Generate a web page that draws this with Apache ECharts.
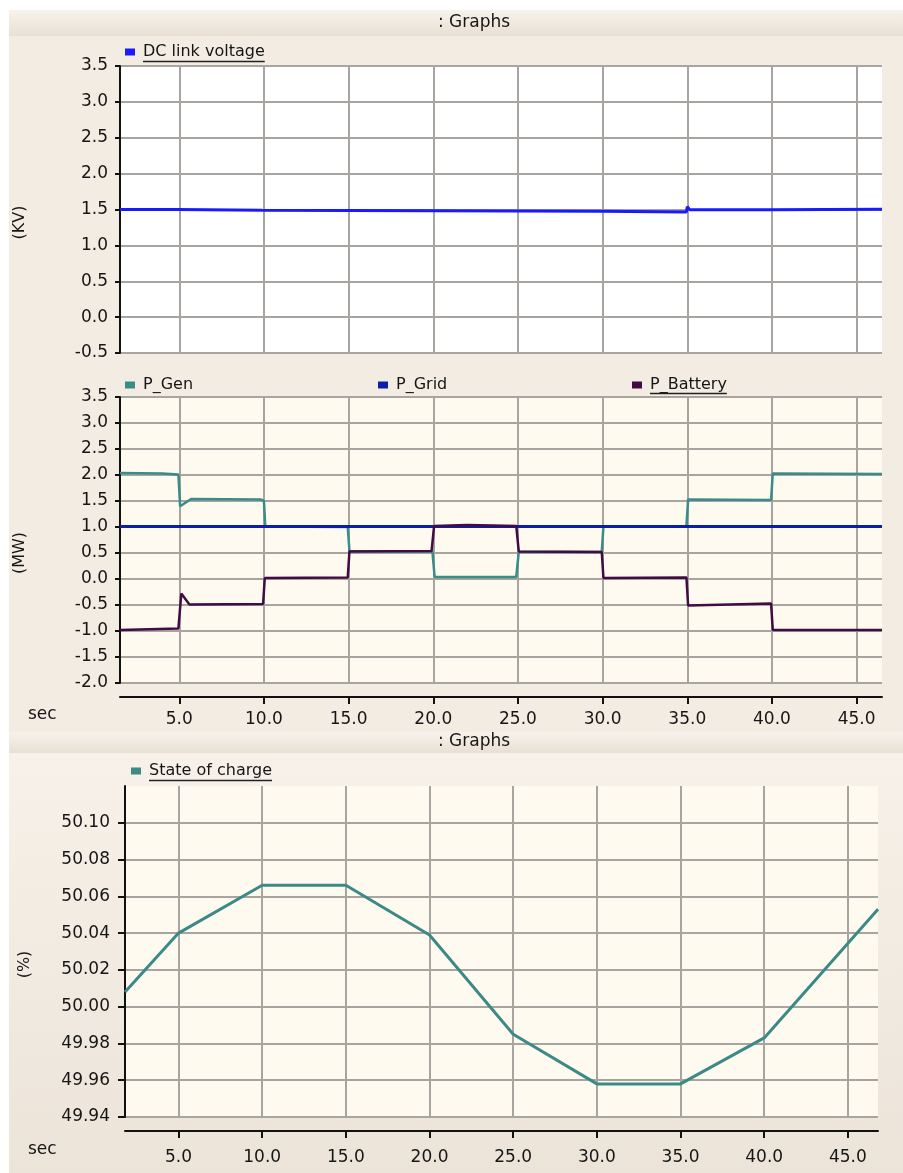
<!DOCTYPE html>
<html>
<head>
<meta charset="utf-8">
<script src="https://cdn.jsdelivr.net/npm/echarts@6/dist/echarts.min.js"></script>
<style>
html,body{margin:0;padding:0;background:#ffffff;}
#c{width:903px;height:1173px;}
</style>
</head>
<body>
<div id="c"></div>
<script>
// ---------- data ----------
const xTicks = [5, 10, 15, 20, 25, 30, 35, 40, 45];
const socTicks = [49.94, 49.96, 49.98, 50.00, 50.02, 50.04, 50.06, 50.08, 50.10];

const dcTime = [1.5, 4.9, 5.0, 9.9, 10.0, 29.9, 30.0, 34.95, 35.0, 35.15, 39.9, 40.0, 46.5];
const dcVolt = [1.50, 1.50, 1.49, 1.49, 1.475, 1.475, 1.465, 1.465, 1.54, 1.495, 1.495, 1.505, 1.505];

const genTime = [1.5, 4.0, 4.95, 5.05, 5.1, 5.7, 9.8, 10.0, 10.08, 14.95, 15.05, 19.95, 20.08, 24.9, 25.05, 29.95, 30.05, 34.95, 35.05, 39.95, 40.05, 46.5];
const pGen    = [2.04, 2.03, 2.01, 1.40, 1.38, 1.54, 1.53, 1.50, 1.01, 1.00, 0.54, 0.53, 0.04, 0.04, 0.52, 0.52, 1.01, 1.02, 1.53, 1.52, 2.03, 2.02];

const gridTime = [1.5, 10.0, 20.0, 30.0, 40.0, 46.5];
const pGrid    = [1.01, 1.01, 1.01, 1.01, 1.01, 1.01];

const batTime = [1.5, 4.95, 5.05, 5.12, 5.6, 9.95, 10.05, 14.95, 15.05, 19.9, 20.05, 22.0, 24.9, 25.05, 29.95, 30.05, 34.95, 35.05, 39.95, 40.05, 46.5];
const pBat    = [-0.98, -0.95, -0.95, -0.28, -0.49, -0.48, 0.02, 0.03, 0.53, 0.54, 1.02, 1.04, 1.02, 0.53, 0.52, 0.02, 0.03, -0.51, -0.47, -0.98, -0.98];

const socTime = [1.8, 5, 10, 15, 20, 25, 30, 35, 40, 46.8];
const soc     = [50.008, 50.040, 50.066, 50.066, 50.039, 49.985, 49.958, 49.958, 49.983, 50.053];

// ---------- helpers ----------
const zip = (a, b) => a.map((t, i) => [t, b[i]]);
const FONT = 'DejaVu Sans';
const TXT = '#161616';
const GRID_LINE = {show: true, lineStyle: {color: '#a8a5a0', width: 2}};
const AXIS_LINE = {show: true, onZero: false, lineStyle: {color: '#111111', width: 2}};

function textWidth(s, size) {
  const cv = document.createElement('canvas').getContext('2d');
  cv.font = size + 'px "' + FONT + '"';
  return cv.measureText(s).width;
}

function legendOpt(name, left, top) {
  return {
    data: [name], left: left, top: top, padding: 0, icon: 'rect',
    itemWidth: 10, itemHeight: 7, selectedMode: false,
    textStyle: {fontSize: 16, color: TXT, fontFamily: FONT, padding: [0, 0, 0, 3]}
  };
}

function yAx(gi, name, extra) {
  return Object.assign({
    type: 'value', gridIndex: gi, name: name, nameLocation: 'middle', nameGap: 92,
    nameTextStyle: {fontSize: 16, color: TXT, fontFamily: FONT, padding: [0, 26, 0, 0]},
    axisLine: AXIS_LINE,
    axisTick: {show: true, length: 5, lineStyle: {color: '#111', width: 2}},
    axisLabel: {fontSize: 17, color: TXT, fontFamily: FONT, margin: 12, formatter: v => v.toFixed(1)},
    splitLine: GRID_LINE
  }, extra);
}

function xAx(gi, min, max, shown, margin) {
  return {
    type: 'value', gridIndex: gi, min: min, max: max, offset: shown ? 14 : 0,
    axisLine: shown ? AXIS_LINE : {show: false, onZero: false},
    axisTick: {show: shown, length: 7, customValues: xTicks, lineStyle: {color: '#111', width: 2}},
    axisLabel: {show: shown, customValues: xTicks, fontSize: 17, color: TXT, fontFamily: FONT, margin: margin || 12, formatter: v => v.toFixed(1)},
    splitLine: GRID_LINE
  };
}

const chart = echarts.init(document.getElementById('c'), null, {renderer: 'canvas'});

const bandGrad = {type: 'linear', x: 0, y: 0, x2: 0, y2: 1,
  colorStops: [{offset: 0, color: '#f7f2eb'}, {offset: 1, color: '#e9e0d4'}]};

const ulDC = textWidth('DC link voltage', 16);
const ulBat = textWidth('P_Battery', 16);
const ulSoc = textWidth('State of charge', 16);

chart.setOption({
  animation: false,
  backgroundColor: '#ffffff',
  textStyle: {fontFamily: FONT},
  graphic: [
    {type: 'rect', z: -10, shape: {x: 9, y: 10, width: 894, height: 722}, style: {fill: '#f3ece2'}, silent: true},
    {type: 'rect', z: -10, shape: {x: 9, y: 752, width: 894, height: 421},
      style: {fill: {type: 'linear', x: 0, y: 0, x2: 0, y2: 1, colorStops: [{offset: 0, color: '#f7f1e9'}, {offset: 1, color: '#ece4d9'}]}}, silent: true},
    {type: 'rect', z: -9, shape: {x: 9, y: 10, width: 894, height: 26}, style: {fill: bandGrad}, silent: true},
    {type: 'rect', z: -9, shape: {x: 9, y: 732, width: 894, height: 21}, style: {fill: bandGrad}, silent: true},
    {type: 'text', x: 474, y: 23, style: {text: ': Graphs', fontSize: 17, fill: TXT, fontFamily: FONT, align: 'center', verticalAlign: 'middle'}},
    {type: 'text', x: 474, y: 742, style: {text: ': Graphs', fontSize: 17, fill: TXT, fontFamily: FONT, align: 'center', verticalAlign: 'middle'}},
    {type: 'text', x: 28, y: 715, style: {text: 'sec', fontSize: 17, fill: TXT, fontFamily: FONT, align: 'left', verticalAlign: 'middle'}},
    {type: 'text', x: 28, y: 1150, style: {text: 'sec', fontSize: 17, fill: TXT, fontFamily: FONT, align: 'left', verticalAlign: 'middle'}},
    {type: 'line', shape: {x1: 143, y1: 61.5, x2: 143 + ulDC, y2: 61.5}, style: {stroke: '#222', lineWidth: 1.5}, silent: true},
    {type: 'line', shape: {x1: 650, y1: 393.5, x2: 650 + ulBat, y2: 393.5}, style: {stroke: '#222', lineWidth: 1.5}, silent: true},
    {type: 'line', shape: {x1: 149, y1: 780.5, x2: 149 + ulSoc, y2: 780.5}, style: {stroke: '#222', lineWidth: 1.5}, silent: true}
  ],
  legend: [
    legendOpt('DC link voltage', 125, 44),
    legendOpt('P_Gen', 125, 377),
    legendOpt('P_Grid', 378, 377),
    legendOpt('P_Battery', 632, 377),
    legendOpt('State of charge', 131, 763)
  ],
  grid: [
    {left: 120, top: 66, width: 762, height: 287, show: true, backgroundColor: '#ffffff', borderWidth: 0},
    {left: 120, top: 397, width: 762, height: 286, show: true, backgroundColor: '#fffaf0', borderWidth: 0},
    {left: 125, top: 786, width: 753, height: 331, show: true, backgroundColor: '#fffaf0', borderWidth: 0}
  ],
  xAxis: [
    xAx(0, 1.5, 46.5, false),
    xAx(1, 1.5, 46.5, true, 14),
    xAx(2, 1.8, 46.8, true, 18)
  ],
  yAxis: [
    yAx(0, '(KV)', {min: -0.5, max: 3.5, interval: 0.5}),
    yAx(1, '(MW)', {min: -2.0, max: 3.5, interval: 0.5}),
    yAx(2, '(%)', {
      min: 49.94, max: 50.12,
      axisTick: {show: true, length: 7, customValues: socTicks, lineStyle: {color: '#111', width: 2}},
      axisLabel: {customValues: socTicks, fontSize: 17, color: TXT, fontFamily: FONT, margin: 15, formatter: v => v.toFixed(2)}
    })
  ],
  series: [
    {name: 'DC link voltage', type: 'line', xAxisIndex: 0, yAxisIndex: 0, data: zip(dcTime, dcVolt),
      showSymbol: false, color: '#1a1aff', lineStyle: {width: 3, color: '#1a1aff'}},
    {name: 'P_Gen', type: 'line', xAxisIndex: 1, yAxisIndex: 1, data: zip(genTime, pGen),
      showSymbol: false, color: '#3a8c89', lineStyle: {width: 2.5, color: '#3a8c89'}},
    {name: 'P_Grid', type: 'line', xAxisIndex: 1, yAxisIndex: 1, data: zip(gridTime, pGrid),
      showSymbol: false, color: '#0b1ea8', lineStyle: {width: 3, color: '#0b1ea8'}},
    {name: 'P_Battery', type: 'line', xAxisIndex: 1, yAxisIndex: 1, data: zip(batTime, pBat),
      showSymbol: false, color: '#420c43', lineStyle: {width: 2.5, color: '#420c43'}},
    {name: 'State of charge', type: 'line', xAxisIndex: 2, yAxisIndex: 2, data: zip(socTime, soc),
      showSymbol: false, color: '#3b8a86', lineStyle: {width: 3, color: '#3b8a86'}}
  ]
});
</script>
</body>
</html>
